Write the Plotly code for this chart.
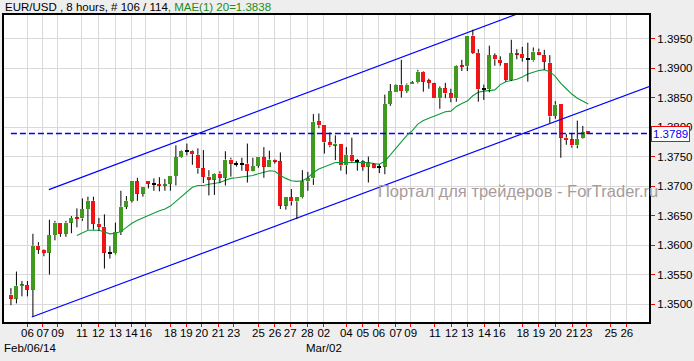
import plotly.graph_objects as go

# ---------------- data ----------------
title_main = "EUR/USD , 8 hours, # 106 / 114"
title_ind = ", MAE(1) 20=1.3838"
last_price = 1.3789
watermark = "Портал для трейдеров - ForTrader.ru"
date_row2 = ["Feb/06/14", "Mar/02"]

opens = [1.3516, 1.3509, 1.3531, 1.3532, 1.3524, 1.3599, 1.3592, 1.3587, 1.3617, 1.3638,
         1.3619, 1.3638, 1.3646, 1.3645, 1.3661, 1.3675, 1.3636, 1.3631, 1.3586, 1.3586,
         1.3622, 1.3665, 1.3675, 1.3708, 1.3687, 1.3709, 1.3703, 1.3703, 1.3701, 1.3704,
         1.3717, 1.3749, 1.3760, 1.3760, 1.3753, 1.3730, 1.3716, 1.3711, 1.3721, 1.3714,
         1.3745, 1.3738, 1.3738, 1.3738, 1.3726, 1.3734, 1.3749, 1.3733, 1.3745, 1.3742,
         1.3667, 1.3681, 1.3674, 1.3681, 1.3708, 1.3713, 1.3810, 1.3803, 1.3774, 1.3769,
         1.3772, 1.3735, 1.3753, 1.3742, 1.3742, 1.3733, 1.3737, 1.3733, 1.3733, 1.3839,
         1.3860, 1.3872, 1.3861, 1.3874, 1.3876, 1.3894, 1.3879, 1.3874, 1.3849, 1.3866,
         1.3857, 1.3849, 1.3904, 1.3903, 1.3955, 1.3926, 1.3864, 1.3864, 1.3922, 1.3914,
         1.3909, 1.3880, 1.3925, 1.3924, 1.3915, 1.3913, 1.3928, 1.3922, 1.3909, 1.3819,
         1.3839, 1.3782, 1.3779, 1.3769, 1.3781, 1.3794]
highs = [1.3527, 1.3555, 1.3539, 1.3539, 1.3619, 1.3605, 1.3593, 1.3643, 1.3641, 1.3638,
         1.3641, 1.3649, 1.3662, 1.3679, 1.3682, 1.3682, 1.3646, 1.3652, 1.3598, 1.3638,
         1.3692, 1.3683, 1.3708, 1.3714, 1.3699, 1.3709, 1.3713, 1.3715, 1.3712, 1.3717,
         1.3769, 1.3761, 1.3772, 1.3761, 1.3764, 1.3761, 1.3727, 1.3722, 1.3725, 1.3759,
         1.3748, 1.3742, 1.3748, 1.3772, 1.3748, 1.3749, 1.3766, 1.3760, 1.3746, 1.3757,
         1.3681, 1.3695, 1.3681, 1.3727, 1.3724, 1.3822, 1.3823, 1.3803, 1.3791, 1.3786,
         1.3772, 1.3766, 1.3782, 1.3746, 1.3744, 1.3750, 1.3739, 1.3737, 1.3855, 1.3873,
         1.3873, 1.3914, 1.3874, 1.3878, 1.3897, 1.3895, 1.3882, 1.3875, 1.3869, 1.3875,
         1.3865, 1.3905, 1.3914, 1.3955, 1.3965, 1.3932, 1.3872, 1.3938, 1.3925, 1.3920,
         1.3909, 1.3948, 1.3932, 1.3936, 1.3943, 1.3935, 1.3933, 1.3931, 1.3922, 1.3844,
         1.3839, 1.3788, 1.3790, 1.3811, 1.3802, 1.3794]
lows = [1.3498, 1.3501, 1.3513, 1.3513, 1.3479, 1.3585, 1.3581, 1.3550, 1.3608, 1.3614,
        1.3614, 1.3620, 1.3630, 1.3641, 1.3626, 1.3626, 1.3624, 1.3560, 1.3577, 1.3584,
        1.3617, 1.3661, 1.3672, 1.3675, 1.3682, 1.3696, 1.3692, 1.3691, 1.3692, 1.3692,
        1.3701, 1.3748, 1.3752, 1.3736, 1.3721, 1.3705, 1.3684, 1.3685, 1.3705, 1.3701,
        1.3716, 1.3733, 1.3726, 1.3706, 1.3725, 1.3731, 1.3714, 1.3733, 1.3738, 1.3661,
        1.3660, 1.3667, 1.3644, 1.3679, 1.3692, 1.3702, 1.3798, 1.3755, 1.3766, 1.3744,
        1.3726, 1.3720, 1.3740, 1.3726, 1.3726, 1.3706, 1.3730, 1.3722, 1.3720, 1.3836,
        1.3860, 1.3850, 1.3858, 1.3874, 1.3874, 1.3860, 1.3865, 1.3849, 1.3831, 1.3849,
        1.3842, 1.3843, 1.3895, 1.3895, 1.3924, 1.3843, 1.3846, 1.3859, 1.3904, 1.3904,
        1.3877, 1.3878, 1.3915, 1.3911, 1.3877, 1.3911, 1.3922, 1.3897, 1.3807, 1.3814,
        1.3748, 1.3770, 1.3765, 1.3764, 1.3780, 1.3789]
closes = [1.3509, 1.3531, 1.3532, 1.3524, 1.3599, 1.3592, 1.3587, 1.3617, 1.3638, 1.3619,
          1.3638, 1.3646, 1.3645, 1.3661, 1.3675, 1.3636, 1.3631, 1.3587, 1.3586, 1.3622,
          1.3665, 1.3675, 1.3708, 1.3687, 1.3699, 1.3704, 1.3703, 1.3701, 1.3703, 1.3717,
          1.3749, 1.3760, 1.3760, 1.3754, 1.3730, 1.3716, 1.3711, 1.3721, 1.3714, 1.3745,
          1.3738, 1.3738, 1.3738, 1.3726, 1.3734, 1.3749, 1.3733, 1.3745, 1.3742, 1.3667,
          1.3681, 1.3674, 1.3681, 1.3708, 1.3713, 1.3809, 1.3803, 1.3774, 1.3769, 1.3772,
          1.3735, 1.3753, 1.3742, 1.3742, 1.3733, 1.3740, 1.3731, 1.3733, 1.3839, 1.3861,
          1.3872, 1.3861, 1.3872, 1.3876, 1.3894, 1.3877, 1.3875, 1.3849, 1.3866, 1.3857,
          1.3849, 1.3904, 1.3903, 1.3955, 1.3926, 1.3864, 1.3864, 1.3922, 1.3915, 1.3909,
          1.3880, 1.3925, 1.3924, 1.3917, 1.3915, 1.3928, 1.3923, 1.3911, 1.3818, 1.3838,
          1.3782, 1.3778, 1.3769, 1.3780, 1.3791, 1.3789]

# moving-average line, starts at bar 12
ma_start = 12
ma_values = [1.3616, 1.3620, 1.3625, 1.3625, 1.3625, 1.3622, 1.3619, 1.3620, 1.3623, 1.3630,
             1.3637, 1.3642, 1.3646, 1.3651, 1.3655, 1.3658, 1.3661, 1.3666, 1.3674, 1.3682,
             1.3691, 1.3698, 1.3701, 1.3701, 1.3703, 1.3705, 1.3706, 1.3710, 1.3713, 1.3714,
             1.3715, 1.3717, 1.3718, 1.3721, 1.3723, 1.3726, 1.3725, 1.3718, 1.3713, 1.3709,
             1.3708, 1.3709, 1.3714, 1.3723, 1.3729, 1.3733, 1.3736, 1.3740, 1.3740, 1.3740,
             1.3740, 1.3740, 1.3740, 1.3740, 1.3738, 1.3737, 1.3742, 1.3753, 1.3764, 1.3775,
             1.3786, 1.3794, 1.3805, 1.3811, 1.3815, 1.3819, 1.3823, 1.3826, 1.3827, 1.3835,
             1.3840, 1.3844, 1.3853, 1.3859, 1.3861, 1.3862, 1.3863, 1.3872, 1.3877, 1.3879,
             1.3881, 1.3885, 1.3890, 1.3893, 1.3896, 1.3897, 1.3894, 1.3886, 1.3874, 1.3865,
             1.3856, 1.3849, 1.3844, 1.3839]

# trend channel anchors (bar position, price)
upper_x = [6.9, 117]
upper_y = [1.3694, 1.4079]
lower_x = [3.8, 117]
lower_y = [1.3478, 1.3872]
hline_x = [0, 117]

# x tick labels and their bar positions
tick_labels = ["06", "07", "09", "11", "12", "13", "14", "16", "18", "19", "20", "21", "23",
               "25", "26", "27", "28", "02", "04", "05", "06", "07", "09", "11", "12", "13",
               "14", "16", "18", "19", "20", "21", "23", "25", "26"]
tick_pos = [3, 5.8, 8.5, 12.9, 15.9, 19, 21.9, 24.5, 29, 31.9, 34.7, 37.7, 40.5,
            45, 48, 50.8, 53.9, 56.9, 61, 64, 66.9, 70, 72.7, 77.1, 80.1, 83,
            86.1, 88.8, 93.1, 96, 99, 102.1, 104.6, 109.1, 112]
y_ticks = [1.3500, 1.3550, 1.3600, 1.3650, 1.3700, 1.3750, 1.3800, 1.3850, 1.3900, 1.3950]

# ---------------- styling ----------------
GREEN = "#3f9a1f"
RED = "#f01414"
FONT = "Liberation Sans, Arial, sans-serif"
X_RANGE = [-1.26, 116.04]
Y_RANGE = [1.34695, 1.3990]

n = len(opens)
idx = list(range(n))
bottoms, heights, colors = [], [], []
wx, wy = [], []
for i in idx:
    o, h, l, c = opens[i], highs[i], lows[i], closes[i]
    top, bot = max(o, c), min(o, c)
    ht = top - bot
    if c > o:
        col = GREEN
    elif c < o:
        col = RED
    else:
        col = "black"
    if ht < 0.00017:
        mid = (top + bot) / 2
        bot = mid - 0.000085
        ht = 0.00017
        top = bot + ht
    bottoms.append(bot)
    heights.append(ht)
    colors.append(col)
    if h > top:
        wx += [i, i, None]
        wy += [h, top, None]
    if l < bot:
        wx += [i, i, None]
        wy += [bot, l, None]

fig = go.Figure()
fig.add_trace(go.Scatter(x=upper_x, y=upper_y, mode="lines",
                         line=dict(color="#0000ff", width=1.2), hoverinfo="skip"))
fig.add_trace(go.Scatter(x=lower_x, y=lower_y, mode="lines",
                         line=dict(color="#0000ff", width=1.2), hoverinfo="skip"))
fig.add_trace(go.Scatter(x=hline_x, y=[last_price, last_price], mode="lines",
                         line=dict(color="#0000ff", width=1.6, dash="6px,3px"), hoverinfo="skip"))
fig.add_trace(go.Scatter(x=list(range(ma_start, ma_start + len(ma_values))), y=ma_values,
                         mode="lines", line=dict(color="#0f9a3a", width=1.1), hoverinfo="skip"))
fig.add_trace(go.Scatter(x=wx, y=wy, mode="lines", line=dict(color="black", width=1),
                         hoverinfo="skip"))
fig.add_trace(go.Bar(x=idx, y=heights, base=bottoms, width=0.72,
                     marker=dict(color=colors, line=dict(width=0))))

fig.update_layout(
    width=694, height=361, autosize=False,
    margin=dict(l=2, r=41, t=15, b=39),
    paper_bgcolor="#eeeeee", plot_bgcolor="white",
    showlegend=False,
    font=dict(family=FONT, size=11, color="black"),
    bargap=0,
)
fig.update_xaxes(range=X_RANGE, tickmode="array", tickvals=tick_pos, ticktext=tick_labels,
                 tickangle=0, ticklabelstandoff=-4,
                 showgrid=True, gridcolor="#d9d9d9", gridwidth=1, zeroline=False,
                 showline=True, linecolor="black", linewidth=2, mirror=True,
                 ticks="outside", tickcolor="red", ticklen=3, tickwidth=1,
                 tickfont=dict(family=FONT, size=11.5, color="black"))
fig.update_yaxes(range=Y_RANGE, side="right", tickmode="array", tickvals=y_ticks,
                 ticktext=[f"{v:.4f}" for v in y_ticks],
                 showgrid=True, gridcolor="#d9d9d9", gridwidth=1, zeroline=False,
                 showline=True, linecolor="black", linewidth=2, mirror=True,
                 ticks="outside", tickcolor="red", ticklen=4, tickwidth=1,
                 tickfont=dict(family=FONT, size=11.5, color="black"))

PW, PH = 651.0, 307.0
fig.add_annotation(xref="paper", yref="paper", x=-0.001, y=(322 - 7.5) / PH,
                   xanchor="left", yanchor="middle", showarrow=False,
                   text=title_main + "<span style='color:#1c8c1c'>" + title_ind + "</span>",
                   font=dict(family=FONT, size=11.5, color="black"))
fig.add_annotation(xref="paper", yref="paper", x=(0 - 2) / PW, y=(322 - 348) / PH,
                   xanchor="left", yanchor="middle", showarrow=False, text=date_row2[0],
                   font=dict(family=FONT, size=11.5, color="black"))
fig.add_annotation(xref="paper", yref="paper", x=(305 - 2) / PW, y=(322 - 348) / PH,
                   xanchor="left", yanchor="middle", showarrow=False, text=date_row2[1],
                   font=dict(family=FONT, size=11.5, color="black"))
fig.add_annotation(xref="paper", yref="paper", x=(377 - 2) / PW, y=(322 - 191) / PH,
                   xanchor="left", yanchor="middle", showarrow=False, text=watermark,
                   font=dict(family=FONT, size=16.5, color="#a89b9b"))
fig.add_annotation(xref="paper", yref="y", x=(655 - 2) / PW, y=last_price,
                   xanchor="left", yanchor="middle", showarrow=False,
                   text=f"{last_price:.4f}", bgcolor="white", bordercolor="red",
                   borderwidth=1, borderpad=1,
                   font=dict(family=FONT, size=11.5, color="#0000ff"))

fig.write_html("out.html")
